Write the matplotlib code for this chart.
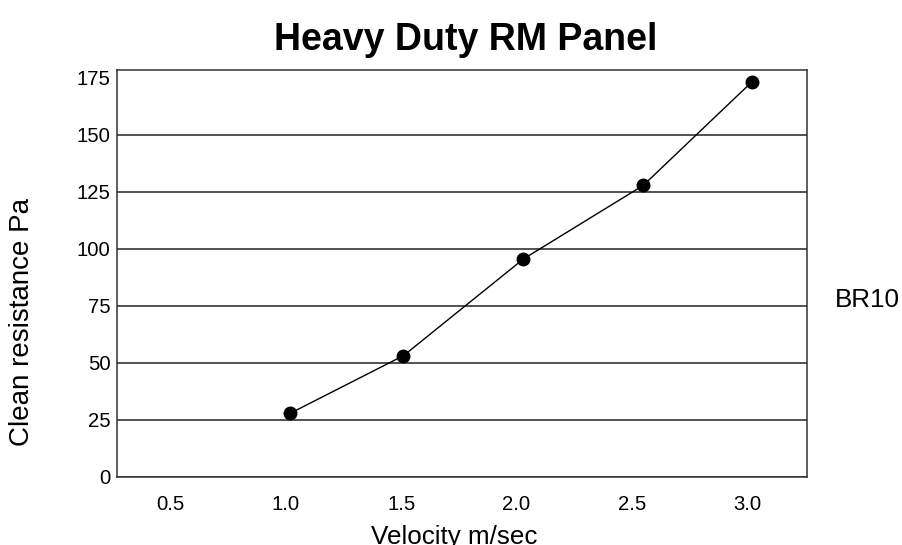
import matplotlib.pyplot as plt

plt.rcParams["font.family"] = ["Liberation Sans", "DejaVu Sans"]

# data
velocity = [1.02, 1.51, 2.03, 2.55, 3.02]
resistance = [28.0, 53.2, 95.6, 127.9, 173.2]
x_ticks = [0.5, 1.0, 1.5, 2.0, 2.5, 3.0]
y_ticks = [0, 25, 50, 75, 100, 125, 150, 175]
series_name = "BR10"

W, H = 903, 545
fig = plt.figure(figsize=(W / 100, H / 100), dpi=100)
ax = fig.add_axes([117.5 / W, 1 - 477 / H, (807 - 117.5) / W, (477 - 70) / H])

ax.set_xlim(0.27, 3.26)
ax.set_ylim(0, 178.5)
ax.set_xticks(x_ticks)
ax.set_xticklabels([f"{v:.1f}" for v in x_ticks])
ax.set_yticks(y_ticks)
ax.tick_params(axis="both", length=0, labelsize=14.6)
ax.tick_params(axis="x", pad=13)
ax.tick_params(axis="y", pad=5)

ax.grid(axis="y", color="#222222", linewidth=1.1)
ax.yaxis.get_gridlines()[-1].set_visible(False)  # top line is just the frame
ax.set_axisbelow(True)
for s in ax.spines.values():
    s.set_color("#333333")
    s.set_linewidth(1.1)

ax.plot(velocity, resistance, color="black", linewidth=1.0,
        marker="o", markersize=9, markerfacecolor="black", markeredgecolor="black")

fig.text(466 / W, 1 - 40 / H, "Heavy Duty RM Panel", ha="center", va="center",
         fontsize=27, fontweight="bold")
fig.text(22 / W, 1 - 322 / H, "Clean resistance Pa", ha="center", va="center",
         rotation=90, fontsize=20)
fig.text(454 / W, 1 - 537 / H, "Velocity m/sec", ha="center", va="center", fontsize=18.7)
fig.text(867 / W, 1 - 300 / H, series_name, ha="center", va="center", fontsize=18.7)

fig.savefig("out.png", dpi=100)
